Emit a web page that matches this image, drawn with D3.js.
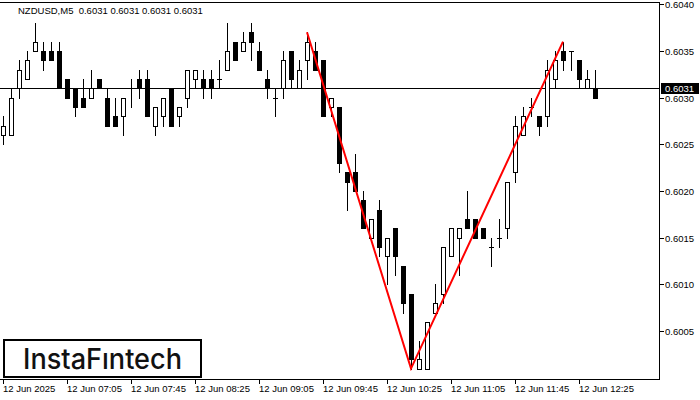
<!DOCTYPE html>
<html><head><meta charset="utf-8">
<script src="https://cdn.jsdelivr.net/npm/d3@7"></script>
<style>body{margin:0;background:#fff}svg{display:block}</style>
</head><body><svg id="c" width="700" height="400"></svg>
<script>
// ---- data (NZDUSD M5, 12 Jun 2025, from 06:25) ----
const opens  = [0.6026,0.6026,0.6031,0.6032,0.6035,0.6035,0.6035,0.6035,0.6032,0.6031,0.6030,0.6030,0.6032,0.6030,0.6028,0.6028,0.6031,0.6032,0.6032,0.6027,0.6028,0.6031,0.6028,0.6030,0.6032,0.6032,0.6032,0.6032,0.6033,0.6036,0.6035,0.6037,0.6035,0.6032,0.6030,0.6031,0.6035,0.6031,0.6034,0.6035,0.6034,0.6029,0.6029,0.6022,0.6022,0.6019,0.6015,0.6018,0.6013,0.6016,0.6012,0.6009,0.6001,0.6001,0.6007,0.6009,0.6013,0.6015,0.6017,0.6017,0.6016,0.6014,0.6015,0.6016,0.6022,0.6026,0.6029,0.6028,0.6028,0.6032,0.6035,0.6035,0.6034,0.6031,0.6031];
const highs  = [0.6028,0.6031,0.6034,0.6035,0.6038,0.6036,0.6036,0.6036,0.6032,0.6031,0.6032,0.6033,0.6032,0.6031,0.6030,0.6030,0.6032,0.6033,0.6033,0.6029,0.6030,0.6031,0.6029,0.6033,0.6033,0.6033,0.6033,0.6034,0.6038,0.6036,0.6037,0.6038,0.6036,0.6033,0.6031,0.6035,0.6035,0.6034,0.6037,0.6036,0.6034,0.6030,0.6029,0.6022,0.6024,0.6020,0.6017,0.6019,0.6015,0.6016,0.6012,0.6009,0.6004,0.6006,0.6010,0.6014,0.6016,0.6016,0.6020,0.6017,0.6016,0.6015,0.6017,0.6021,0.6028,0.6029,0.6030,0.6028,0.6034,0.6035,0.6036,0.6035,0.6034,0.6033,0.6033];
const lows   = [0.6025,0.6026,0.6030,0.6032,0.6035,0.6033,0.6034,0.6031,0.6030,0.6028,0.6029,0.6030,0.6031,0.6027,0.6027,0.6026,0.6029,0.6030,0.6028,0.6026,0.6027,0.6027,0.6027,0.6029,0.6031,0.6030,0.6030,0.6031,0.6033,0.6034,0.6035,0.6034,0.6033,0.6030,0.6028,0.6030,0.6031,0.6031,0.6032,0.6033,0.6028,0.6028,0.6022,0.6018,0.6020,0.6016,0.6015,0.6013,0.6010,0.6011,0.6007,0.6001,0.6001,0.6001,0.6007,0.6008,0.6013,0.6011,0.6016,0.6015,0.6015,0.6012,0.6014,0.6015,0.6021,0.6026,0.6028,0.6026,0.6027,0.6031,0.6033,0.6033,0.6031,0.6031,0.6030];
const closes = [0.6027,0.6030,0.6033,0.6034,0.6036,0.6034,0.6034,0.6031,0.6030,0.6029,0.6029,0.6031,0.6031,0.6027,0.6027,0.6030,0.6031,0.6031,0.6028,0.6029,0.6030,0.6027,0.6029,0.6033,0.6033,0.6031,0.6031,0.6032,0.6035,0.6034,0.6036,0.6036,0.6033,0.6031,0.6030,0.6034,0.6032,0.6033,0.6036,0.6033,0.6028,0.6030,0.6023,0.6021,0.6020,0.6016,0.6017,0.6014,0.6015,0.6013,0.6008,0.6002,0.6002,0.6006,0.6008,0.6014,0.6016,0.6016,0.6016,0.6015,0.6015,0.6014,0.6015,0.6021,0.6027,0.6028,0.6029,0.6027,0.6033,0.6034,0.6034,0.6035,0.6032,0.6032,0.6030];
const priceTicks = [0.6005,0.6010,0.6015,0.6020,0.6025,0.6030,0.6035,0.6040];
const timeTickIndex = [0,8,16,24,32,40,48,56,64,72];
const timeTickLabels = ["12 Jun 2025","12 Jun 07:05","12 Jun 07:45","12 Jun 08:25","12 Jun 09:05","12 Jun 09:45","12 Jun 10:25","12 Jun 11:05","12 Jun 11:45","12 Jun 12:25"];
const patternIndex = [38,51,70];
const patternPrice = [0.6037,0.6001,0.6036];
const currentPrice = 0.6031;
const headerText = "NZDUSD,M5  0.6031 0.6031 0.6031 0.6031";
const logoText = "InstaF\u0131ntech";

// ---- drawing ----
const svg = d3.select("#c");
const font = "'Liberation Sans', Arial, sans-serif";
const x = d3.scaleLinear().domain([0, 74]).range([3, 595]);
const y = d3.scaleLinear().domain([0.6000, 0.6040]).range([377.9, 4.3]);
const R = v => Math.round(v);

// frame
svg.append("line").attr("x1",0).attr("x2",660).attr("y1",2.5).attr("y2",2.5).attr("stroke","#000");
svg.append("line").attr("x1",0).attr("x2",660).attr("y1",379.5).attr("y2",379.5).attr("stroke","#000");
svg.append("line").attr("x1",659.5).attr("x2",659.5).attr("y1",2).attr("y2",380).attr("stroke","#000");

// current price line
const cpY = R(y(currentPrice)) + 0.5;
svg.append("line").attr("x1",0).attr("x2",659).attr("y1",cpY).attr("y2",cpY).attr("stroke","#000");

// candles
const idx = d3.range(opens.length);
const g = svg.append("g");
idx.forEach(i => {
  const cx = R(x(i));
  const o = opens[i], c = closes[i];
  g.append("line").attr("x1",cx+0.5).attr("x2",cx+0.5)
    .attr("y1",R(y(highs[i]))).attr("y2",R(y(lows[i]))+1)
    .attr("stroke","#000");
  const top = R(y(Math.max(o,c))), bot = R(y(Math.min(o,c)));
  if (o === c) {
    g.append("line").attr("x1",cx-2).attr("x2",cx+3).attr("y1",top+0.5).attr("y2",top+0.5).attr("stroke","#000");
  } else {
    g.append("rect").attr("x",cx-1.5).attr("y",top+0.5).attr("width",4).attr("height",bot-top)
      .attr("fill", c > o ? "#fff" : "#000").attr("stroke","#000");
  }
});

// pattern line
svg.append("path")
  .attr("d", d3.line().x((d,j)=>x(patternIndex[j])).y(d=>y(d))(patternPrice))
  .attr("fill","none").attr("stroke","#ff0000").attr("stroke-width",2);

// right axis
priceTicks.forEach(p => {
  const py = R(y(p)) + 0.5;
  svg.append("line").attr("x1",660).attr("x2",664).attr("y1",py).attr("y2",py).attr("stroke","#000");
  svg.append("text").attr("x",665).attr("y",py+3.5).attr("font-family",font).attr("font-size",9.5)
    .attr("fill","#000").text(p.toFixed(4));
});
svg.append("rect").attr("x",661).attr("y",R(y(currentPrice))-5).attr("width",38).attr("height",11).attr("fill","#000");
svg.append("text").attr("x",665).attr("y",R(y(currentPrice))+4).attr("font-family",font).attr("font-size",9.5)
  .attr("fill","#fff").text(currentPrice.toFixed(4));

// bottom axis
timeTickIndex.forEach((ti, j) => {
  const tx = R(x(ti)) + 0.5;
  svg.append("line").attr("x1",tx).attr("x2",tx).attr("y1",380).attr("y2",384).attr("stroke","#000");
  svg.append("text").attr("x",tx-0.5).attr("y",392).attr("font-family",font).attr("font-size",9.5)
    .attr("fill","#000").text(timeTickLabels[j]);
});

// header
svg.append("text").attr("x",18).attr("y",14).attr("font-family",font).attr("font-size",9.5)
  .attr("fill","#000").attr("xml:space","preserve").style("white-space","pre").text(headerText);

// logo
svg.append("rect").attr("x",4).attr("y",340).attr("width",197).attr("height",37)
  .attr("fill","#fff").attr("stroke","#000").attr("stroke-width",2);
svg.append("text").attr("x",23).attr("y",369).attr("font-family","Inter, 'Noto Sans', sans-serif")
  .attr("font-size",28).attr("font-weight",500).attr("fill","#111")
  .attr("textLength",159).attr("lengthAdjust","spacingAndGlyphs").text(logoText);
</script></body></html>
